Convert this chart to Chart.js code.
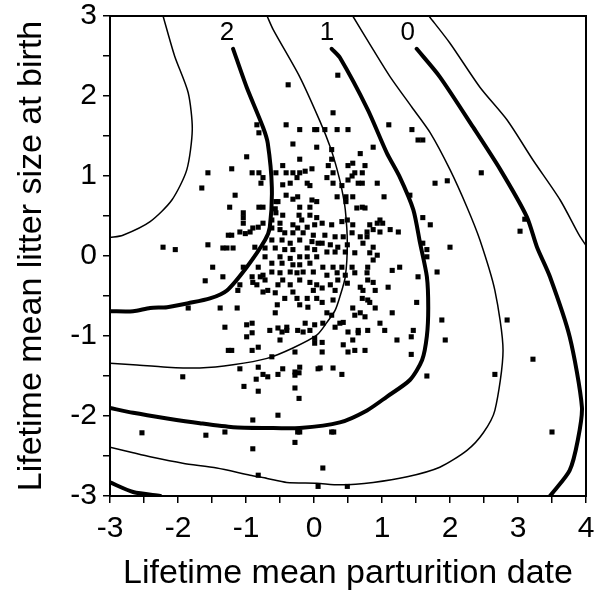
<!DOCTYPE html>
<html>
<head>
<meta charset="utf-8">
<script src="https://cdn.jsdelivr.net/npm/chart.js@4.4.1/dist/chart.umd.min.js"></script>
<style>
html,body{margin:0;padding:0;background:#fff;}
#wrap{width:596px;height:594px;position:relative;}
</style>
</head>
<body>
<div id="wrap"><canvas id="c"></canvas></div>
<script>
// Axis labels
const xTitle = "Lifetime mean parturition date";
const yTitle = "Lifetime mean litter size at birth";

// Contour lines (x, y)
const cA_x = [-2.22, -2.05, -1.85, -1.79, -1.87, -2.09, -2.41, -2.81, -3.0];
const cA_y = [3.0, 2.5, 2.04, 1.58, 1.08, 0.7, 0.43, 0.26, 0.23];
const cB_x = [-1.19, -0.99, -0.75, -0.68, -0.62, -0.65, -0.72, -0.99, -1.28, -1.53, -1.85, -2.16, -2.41, -2.66, -3.0];
const cB_y = [2.59, 2.11, 1.61, 1.41, 0.86, 0.36, 0.2, -0.14, -0.43, -0.53, -0.59, -0.64, -0.65, -0.69, -0.69];
const cC_x = [-0.69, -0.6, -0.21, 0.09, 0.24, 0.34, 0.41, 0.46, 0.49, 0.46, 0.38, 0.31, 0.19, 0.04, -0.31, -0.69, -1.19, -1.68, -2.16, -2.66, -3.0];
const cC_y = [3.0, 2.83, 2.24, 1.68, 1.36, 1.08, 0.83, 0.58, 0.16, -0.26, -0.51, -0.68, -0.83, -0.99, -1.15, -1.28, -1.36, -1.4, -1.39, -1.36, -1.34];
const cD_x = [0.26, 0.38, 0.79, 1.07, 1.26, 1.46, 1.56, 1.66, 1.68, 1.66, 1.59, 1.41, 1.07, 0.78, 0.38, -0.21, -0.69, -1.19, -1.68, -2.16, -2.66, -3.0];
const cD_y = [2.59, 2.48, 1.83, 1.29, 0.99, 0.58, 0.16, -0.26, -0.65, -1.0, -1.3, -1.55, -1.76, -1.93, -2.08, -2.15, -2.15, -2.14, -2.09, -2.03, -1.96, -1.9];
const cE_x = [0.57, 0.87, 1.12, 1.44, 1.71, 2.0, 2.25, 2.44, 2.66, 2.78, 2.66, 2.49, 2.25, 1.85, 1.37, 0.87, 0.38, 0.04, -0.4, -0.69, -0.94, -1.43, -1.93, -2.41, -2.66, -3.0];
const cE_y = [3.0, 2.58, 2.24, 1.86, 1.54, 1.08, 0.61, 0.2, -0.43, -1.18, -1.93, -2.21, -2.43, -2.64, -2.76, -2.83, -2.86, -2.84, -2.83, -2.78, -2.74, -2.65, -2.59, -2.51, -2.46, -2.39];
const cF_x = [1.51, 1.85, 2.34, 2.74, 3.13, 3.28, 3.47, 3.76, 3.94, 3.88, 3.76, 3.51, 3.47];
const cF_y = [2.59, 2.24, 1.61, 1.08, 0.49, 0.11, -0.26, -1.01, -1.89, -2.3, -2.68, -2.96, -3.0];
const cG_x = [1.69, 2.0, 2.44, 2.84, 3.22, 3.62, 3.9, 4.0];
const cG_y = [3.0, 2.66, 2.11, 1.7, 1.2, 0.7, 0.26, 0.13];
const cH_x = [-3.0, -2.66, -2.26];
const cH_y = [-2.83, -2.95, -3.0];

// Contour labels
const labelText = ["2", "1", "0"];
const labelX = [-1.28, 0.19, 1.38];
const labelY = [2.79, 2.79, 2.79];

// Individual observations
const obs = [
[-0.84,1.64],[-0.81,1.54],[-0.41,1.64],[-0.21,1.58],[0.01,1.58],[0.04,1.58],[-0.31,1.4],[0.04,1.36],[-0.99,1.24],[-0.21,1.21],
[-1.56,1.04],[-1.21,1.09],[-0.91,1.04],[-0.81,1.04],[-0.75,0.98],[-0.78,0.91],[-0.56,1.04],[-0.46,1.13],[-0.41,1.04],[-0.31,1.04],
[-0.21,1.04],[-0.13,1.06],[-0.03,1.09],[-0.25,0.98],[-0.35,0.91],[-0.46,0.89],[-0.1,0.91],[-0.06,0.88],[-1.65,0.85],[-1.16,0.76],
[-0.41,0.76],[-0.24,0.74],[-0.31,0.71],[-0.03,0.7],[0.04,0.68],[-0.56,0.68],[-0.53,0.68],[-1.24,0.61],[-0.81,0.61],[-0.75,0.61],
[-0.57,0.59],[-0.21,0.61],[-0.06,0.61],
[0.28,1.79],[1.1,1.64],[1.44,1.58],[0.16,1.58],[0.34,1.58],[0.5,1.58],[1.53,1.45],[1.6,1.45],[0.87,1.36],[0.26,1.33],
[0.68,1.28],[0.26,1.21],[0.5,1.13],[0.57,1.16],[0.75,1.13],[0.21,1.13],[0.28,1.04],[0.6,1.04],[0.71,1.04],[0.56,1.0],
[0.19,0.98],[0.28,0.91],[0.5,0.95],[0.65,0.91],[0.71,0.91],[0.93,0.91],[1.78,0.91],[0.41,0.88],[0.34,0.74],[0.47,0.74],
[0.47,0.68],[0.57,0.74],[1.03,0.74],[1.41,0.76],[0.71,0.61],[0.63,0.6],[0.75,0.6],
[-1.04,0.54],[-1.04,0.48],[-1.04,0.41],[-0.56,0.54],[-0.46,0.51],[-0.22,0.51],[-0.06,0.51],[-0.18,0.45],[0.04,0.48],[-0.5,0.41],
[-0.62,0.45],[-0.75,0.41],[-0.82,0.36],[-0.9,0.35],[-0.94,0.3],[-1.01,0.28],[-1.09,0.3],[-1.26,0.26],[-1.21,0.26],[-0.62,0.35],
[-0.5,0.33],[-0.31,0.39],[-0.24,0.35],[-0.1,0.36],[0.01,0.39],[-0.43,0.29],[-0.31,0.29],[-0.16,0.29],[-0.01,0.26],[-0.62,0.2],
[-0.47,0.2],[-0.35,0.16],[-0.21,0.2],[-0.03,0.18],[0.06,0.16],[-1.56,0.14],[-1.34,0.1],[-1.28,0.1],[-1.19,0.1],[-0.72,0.1],
[-0.57,0.1],[-0.43,0.08],[-0.31,0.08],[-0.1,0.1],[0.01,0.08],[-0.72,-0.01],[-0.5,-0.01],[-0.35,-0.03],[-0.21,-0.01],[-0.1,-0.01],
[0.04,-0.01],[-0.62,-0.09],[-0.47,-0.09],[-0.31,-0.11],[-0.21,-0.11],[-0.06,-0.09],[-1.49,-0.14],[-1.04,-0.14],[-0.82,-0.14],[-0.62,-0.2],
[-0.5,-0.21],[-0.35,-0.2],[-0.25,-0.21],[-0.16,-0.2],[-0.01,-0.2],[-0.91,-0.26],[-0.79,-0.26],[-0.75,-0.24],[-1.34,-0.26],[-1.6,-0.31],
[-0.9,-0.33],[-0.72,-0.3],[-0.46,-0.3],[-0.21,-0.3],[-0.06,-0.33],[-1.09,-0.36],[-0.84,-0.36],[-0.53,-0.36],[-0.35,-0.36],[0.04,-0.36],
[-1.12,-0.43],[-0.75,-0.45],[-0.68,-0.43],[-0.57,-0.46],[-0.31,-0.45],[-0.01,-0.43],[-0.43,-0.53],[-0.25,-0.53],[-0.1,-0.53],[0.04,-0.53],
[-1.38,-0.65],[-1.13,-0.65],[-0.54,-0.61],[-0.21,-0.61],[-0.09,-0.64],
[0.12,0.41],[0.26,0.39],[0.41,0.43],[0.49,0.45],[0.57,0.39],[0.82,0.39],[0.93,0.41],[1.01,0.41],[0.97,0.45],[0.87,0.33],
[0.78,0.3],[1.12,0.33],[1.24,0.3],[1.6,0.48],[1.71,0.39],[0.16,0.26],[0.31,0.24],[0.43,0.24],[0.56,0.29],[0.68,0.24],
[0.78,0.24],[0.97,0.3],[0.12,0.16],[0.24,0.14],[0.35,0.11],[0.49,0.14],[0.72,0.16],[0.87,0.11],[1.6,0.16],[0.19,0.05],
[0.31,0.05],[0.46,0.05],[0.6,0.04],[0.82,0.04],[0.93,0.01],[1.66,0.08],[1.66,-0.01],[0.87,-0.05],[0.13,-0.14],[0.28,-0.14],
[0.41,-0.14],[0.56,-0.14],[0.79,-0.14],[1.15,-0.18],[1.26,-0.14],[1.81,-0.2],[0.19,-0.24],[0.34,-0.21],[0.46,-0.24],[0.6,-0.21],
[0.78,-0.21],[1.53,-0.26],[0.35,-0.3],[0.79,-0.3],[0.87,-0.33],[0.49,-0.34],[0.24,-0.36],[0.12,-0.4],[0.31,-0.43],[0.68,-0.39],
[0.9,-0.43],[1.09,-0.39],[0.72,-0.43],[0.71,-0.53],[0.79,-0.55],[0.82,-0.58],[0.28,-0.55],[0.12,-0.58],[0.57,-0.65],[0.9,-0.65],
[1.51,-0.58],
[-0.57,-0.71],[-1.31,-0.89],[-0.99,-0.86],[-0.91,-0.84],[-0.91,-0.96],[-0.99,-1.01],[-0.65,-0.93],[-0.53,-0.9],[-0.47,-0.95],[-0.4,-0.93],
[-0.4,-0.89],[-0.24,-0.93],[-0.13,-0.84],[-0.16,-0.95],[-0.06,-0.93],[0.01,-0.86],[-0.5,-1.05],[0.01,-1.03],[0.01,-1.09],[-1.26,-1.18],
[-1.21,-1.18],[-0.91,-1.18],[-0.82,-1.14],[-0.28,-1.2],[-0.62,-1.26],[-1.09,-1.41],[-0.82,-1.39],[-0.75,-1.48],[-0.68,-1.51],[-0.53,-1.48],
[-0.46,-1.41],[-0.28,-1.45],[-0.28,-1.49],[-0.21,-1.39],[-0.22,-1.46],[-0.85,-1.54],[0.06,-1.41],[-1.03,-1.63],[-0.82,-1.69],[-0.28,-1.65],
[-0.22,-1.78],
[0.19,-0.71],[0.26,-0.74],[0.13,-0.84],[0.31,-0.89],[0.43,-0.83],[0.38,-0.84],[0.6,-0.74],[0.68,-0.71],[0.75,-0.76],[1.15,-0.71],
[0.97,-0.84],[1.04,-0.93],[0.79,-0.93],[0.65,-0.93],[0.65,-0.96],[0.5,-0.95],[0.57,-1.05],[0.12,-1.08],[0.43,-1.11],[0.12,-1.2],
[0.5,-1.2],[0.6,-1.18],[0.75,-1.18],[1.22,-1.05],[1.46,-0.93],[1.43,-1.01],[1.43,-1.23],[0.09,-1.4],[0.28,-1.4],[0.41,-1.48],
[1.66,-1.5],
[-0.38,2.14],[0.35,2.26],[1.96,0.94],[2.46,1.04],[2.0,0.11],[3.1,0.46],[3.03,0.31],[1.88,-0.8],[1.93,-1.05],[2.84,-0.8],
[3.22,-1.29],[2.66,-1.48],[3.5,-2.2],[0.49,-2.88],[-2.22,0.11],[-2.04,0.08],[-1.93,-1.51],[-1.85,-0.65],[-2.53,-2.21],[-1.59,-2.24],
[-1.31,-2.2],[-0.24,-2.2],[-0.21,-2.2],[0.26,-2.2],[0.29,-2.2],[-0.28,-2.33],[-0.9,-2.41],[0.13,-2.65],[-0.82,-2.74],[0.06,-2.88],
[-0.53,-1.99],[-0.9,-2.05],[-0.87,0.11]
];

const FONT = '"Liberation Sans", Arial, Helvetica, sans-serif';

function zip(xs, ys) { return xs.map((v, i) => ({x: v, y: ys[i]})); }
function contour(xs, ys, thick) {
  return {
    data: zip(xs, ys), showLine: true, borderColor: '#000', borderWidth: thick ? 4 : 1.5,
    pointRadius: 0, tension: 0.25, fill: false, borderCapStyle: 'round', borderJoinStyle: 'round'
  };
}

const frameLabels = {
  id: 'frameLabels',
  afterDatasetsDraw(chart) {
    const {ctx, chartArea: a, scales} = chart;
    ctx.save();
    ctx.strokeStyle = '#000';
    ctx.lineWidth = 2;
    ctx.strokeRect(a.left, a.top, a.right - a.left, a.bottom - a.top);
    ctx.fillStyle = '#000';
    ctx.font = '26px ' + FONT;
    ctx.textAlign = 'center';
    ctx.textBaseline = 'middle';
    labelText.forEach((t, i) => {
      ctx.fillText(t, scales.x.getPixelForValue(labelX[i]), scales.y.getPixelForValue(labelY[i]));
    });
    ctx.restore();
  }
};

new Chart(document.getElementById('c'), {
  type: 'scatter',
  data: {
    datasets: [
      contour(cA_x, cA_y, false),
      contour(cB_x, cB_y, true),
      contour(cC_x, cC_y, false),
      contour(cD_x, cD_y, true),
      contour(cE_x, cE_y, false),
      contour(cF_x, cF_y, true),
      contour(cG_x, cG_y, false),
      contour(cH_x, cH_y, true),
      {
        data: obs.map(p => ({x: p[0], y: p[1]})),
        pointStyle: 'rect', pointRadius: 3.6, pointBorderWidth: 0,
        backgroundColor: '#000', borderColor: '#000', borderWidth: 0, showLine: false
      }
    ]
  },
  options: {
    responsive: true, maintainAspectRatio: false, animation: false,
    devicePixelRatio: 1,
    layout: {padding: {top: 16, right: 10, left: 0, bottom: 0}},
    plugins: {legend: {display: false}, tooltip: {enabled: false}},
    scales: {
      x: {
        type: 'linear', min: -3, max: 4,
        ticks: {stepSize: 0.5, autoSkip: false, maxRotation: 0, padding: 8, color: '#000',
          font: {family: FONT, size: 30},
          callback: v => Number.isInteger(v) ? String(v) : ''},
        grid: {drawOnChartArea: false, drawTicks: true, tickLength: 7, color: '#000', lineWidth: 1.5},
        border: {display: true, color: '#000', width: 2},
        title: {display: true, text: xTitle, color: '#000', font: {family: FONT, size: 34}, padding: {top: 2, bottom: 0}},
        afterFit(s) { s.height = 98; s.paddingLeft = 0; s.paddingRight = 0; }
      },
      y: {
        type: 'linear', min: -3, max: 3,
        ticks: {stepSize: 0.5, autoSkip: false, padding: 6, color: '#000',
          font: {family: FONT, size: 30},
          callback: v => Number.isInteger(v) ? String(v) : ''},
        grid: {drawOnChartArea: false, drawTicks: true, tickLength: 7, color: '#000', lineWidth: 1.5},
        border: {display: true, color: '#000', width: 2},
        title: {display: true, text: yTitle, color: '#000', font: {family: FONT, size: 34}, padding: {top: 11, bottom: 0}},
        afterFit(s) { s.width = 110; s.paddingTop = 0; s.paddingBottom = 0; }
      }
    }
  },
  plugins: [frameLabels]
});
</script>
</body>
</html>
